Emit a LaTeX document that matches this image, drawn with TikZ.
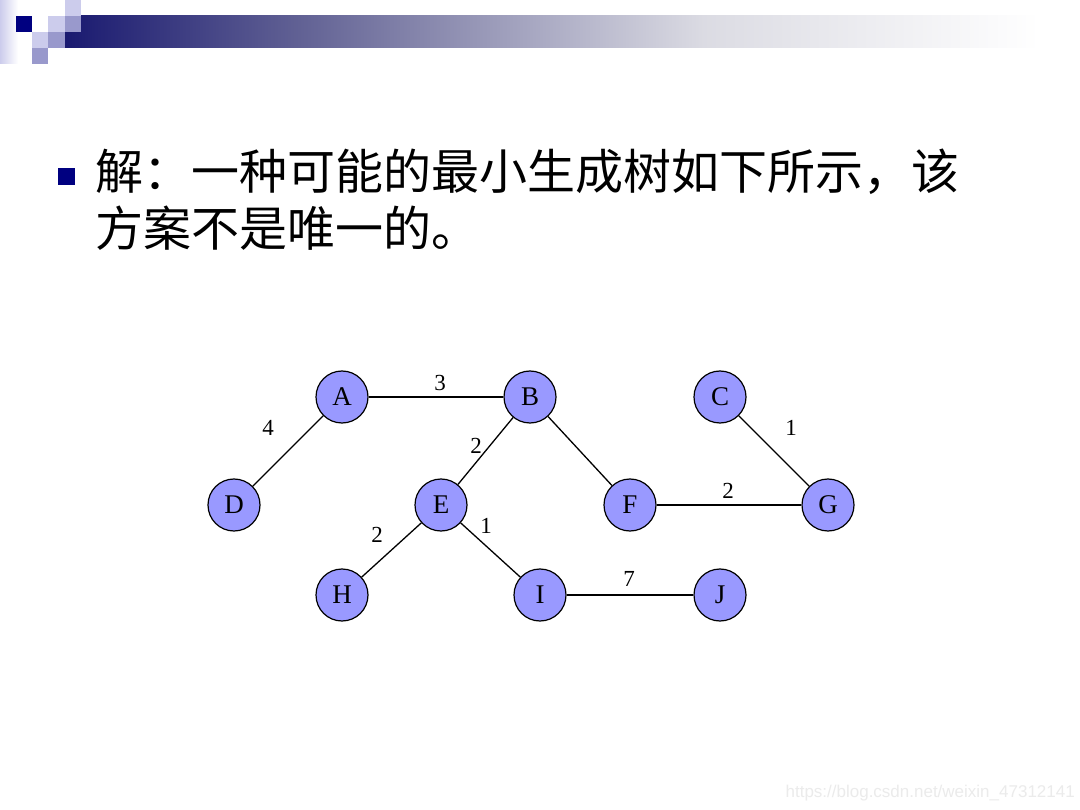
\documentclass[tikz,border=0pt]{standalone}
\usepackage{fontspec}
\setmainfont{Liberation Serif}
\newfontfamily\cjk{Noto Sans CJK SC}
\newfontfamily\wmfont{Liberation Sans}
\definecolor{navy}{RGB}{0,0,128}
\definecolor{lightlav}{RGB}{204,204,236}
\definecolor{midlav}{RGB}{153,153,204}
\definecolor{nodefill}{RGB}{153,153,255}
\pgfdeclarehorizontalshading{barshade}{100bp}{
  rgb(0bp)=(0.10,0.10,0.44);
  rgb(25bp)=(0.10,0.10,0.44);
  rgb(36.5bp)=(0.38,0.38,0.58);
  rgb(56.5bp)=(0.86,0.86,0.89);
  rgb(73bp)=(1,1,1);
  rgb(100bp)=(1,1,1)}
\tikzset{
  vtx/.style={circle, draw=black, line width=1.2pt, fill=nodefill, minimum size=52pt, inner sep=0pt, font=\fontsize{27}{27}\selectfont},
  edge/.style={draw=black, line width=1.3pt},
  wlabel/.style={inner sep=0pt, font=\fontsize{23}{23}\selectfont},
}
\begin{document}
\begin{tikzpicture}[x=1pt,y=-1pt]
\useasboundingbox[fill=white] (0,0) rectangle (1080,810);
% header decoration
\shade[left color=lightlav, right color=white] (0,0) rectangle (18,64);
\shade[shading=barshade] (65,16) rectangle (1080,48);
\fill[navy] (16,16) rectangle (32,32);
\fill[lightlav] (48,16) rectangle (65,32);
\fill[lightlav] (65,0) rectangle (81,16);
\fill[midlav] (65,16) rectangle (81,32);
\fill[lightlav] (32,32) rectangle (48,48);
\fill[midlav] (48,32) rectangle (65,48);
\fill[midlav] (32,48) rectangle (48,64);
% bullet and text
\fill[navy] (58,168) rectangle (75,185);
\node[anchor=base west, inner sep=0pt, font=\cjk\fontsize{48}{48}\selectfont] (line1) at (95,190) {解：一种可能的最小生成树如下所示，该};
\node[anchor=base west, inner sep=0pt, font=\cjk\fontsize{48}{48}\selectfont] (line2) at (95,247) {方案不是唯一的。};
% vertices
\node[vtx] (A) at (342,397) {A};
\node[vtx] (B) at (530,397) {B};
\node[vtx] (C) at (720,397) {C};
\node[vtx] (D) at (234,505) {D};
\node[vtx] (E) at (441,505) {E};
\node[vtx] (F) at (630,505) {F};
\node[vtx] (G) at (828,505) {G};
\node[vtx] (H) at (342,595) {H};
\node[vtx] (I) at (540,595) {I};
\node[vtx] (J) at (720,595) {J};
% edges
\draw[edge] (A) -- (B);
\draw[edge] (A) -- (D);
\draw[edge] (B) -- (E);
\draw[edge] (B) -- (F);
\draw[edge] (F) -- (G);
\draw[edge] (C) -- (G);
\draw[edge] (E) -- (H);
\draw[edge] (E) -- (I);
\draw[edge] (I) -- (J);
% weights
\node[wlabel] (wAB) at (440,383) {3};
\node[wlabel] (wAD) at (268,428) {4};
\node[wlabel] (wBE) at (476,446) {2};
\node[wlabel] (wCG) at (791,428) {1};
\node[wlabel] (wFG) at (728,491) {2};
\node[wlabel] (wEH) at (377,535) {2};
\node[wlabel] (wEI) at (486,526) {1};
\node[wlabel] (wIJ) at (629,579) {7};
% watermark
\node[anchor=east, inner sep=0pt, text=black!8, font=\wmfont\fontsize{17}{17}\selectfont] (wm) at (1075,793) {https://blog.csdn.net/weixin\_47312141};
\end{tikzpicture}
\end{document}
